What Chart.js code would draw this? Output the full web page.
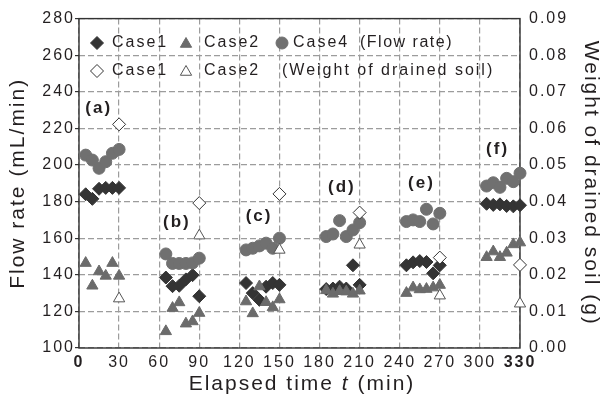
<!DOCTYPE html>
<html>
<head>
<meta charset="utf-8">
<script src="https://cdn.jsdelivr.net/npm/chart.js@4.4.0/dist/chart.umd.min.js"></script>
<style>
  html, body { margin: 0; padding: 0; background: #fff; }
  #wrap { width: 601px; height: 401px; }
</style>
</head>
<body>
<div id="wrap"><canvas id="chart" width="601" height="401"></canvas></div>
<script>
// Sampling times (min) of the six runs (a)-(f)
const runTimes = [
  [5, 10, 15, 20, 25, 30],
  [65, 70, 75, 80, 85, 90],
  [125, 130, 135, 140, 145, 150],
  [185, 190, 195, 200, 205, 210],
  [245, 250, 255, 260, 265, 270],
  [305, 310, 315, 320, 325, 330]
];
const runLabels = ['(a)', '(b)', '(c)', '(d)', '(e)', '(f)'];

// Flow rate (mL/min), one row per run
const flowCase1 = [
  [184.0, 181.5, 187.0, 187.5, 187.5, 187.5],
  [138.5, 133.8, 134.0, 137.5, 139.8, 128.3],
  [135.5, 130.0, 126.3, 133.5, 135.5, 134.5],
  [132.2, 132.5, 133.5, 132.5, 145.2, 134.5],
  [145.2, 146.8, 147.5, 147.0, 140.8, 145.2],
  [178.8, 178.2, 178.5, 177.6, 177.4, 178.0]
];
const flowCase2 = [
  [146.4, 134.0, 141.8, 139.4, 146.4, 139.4],
  [109.1, 121.8, 124.9, 113.3, 114.5, 119.1],
  [125.4, 118.9, 133.6, 125.0, 122.2, 126.5],
  [131.5, 129.6, 131.0, 130.8, 129.6, 131.3],
  [130.0, 133.0, 132.0, 132.2, 133.0, 134.4],
  [149.6, 152.7, 149.6, 152.0, 156.6, 157.6]
];
const flowCase4 = [
  [205.4, 202.7, 198.2, 201.8, 206.4, 208.5],
  [151.4, 146.2, 146.2, 146.2, 146.5, 149.1],
  [153.6, 154.5, 155.8, 157.3, 154.5, 160.0],
  [160.9, 162.3, 169.6, 160.9, 164.5, 168.5],
  [169.1, 170.0, 169.1, 175.8, 167.8, 173.6],
  [188.5, 190.3, 187.8, 192.7, 190.9, 195.5]
];

// Weight of drained soil (g), weighed at the end of each run
const soilTimes = [30, 90, 150, 210, 270, 330];
const soilCase1 = [0.0611, 0.0396, 0.0421, 0.0370, 0.0247, 0.0227];
const soilCase2 = [0.0135, 0.0307, 0.0268, 0.0282, 0.0143, 0.0121];

// Where each run label sits, in axis units (time, flow rate)
const runLabelTime = [14, 72.5, 134, 196, 255.5, 312.5];
const runLabelFlow = [231, 168.5, 172, 188, 190, 208.5];

// Axis ranges and tick steps
const timeRange = [0, 330, 30];
const flowRange = [100, 280, 20];
const soilRange = [0, 0.09, 0.01];

const FONT = '"Liberation Sans", Arial, Helvetica, sans-serif';
const INK = '#231f20';
const GRID = '#9c9c9c';

function toPoints(times, values) {
  const pts = [];
  times.forEach((row, i) => row.forEach((t, j) => pts.push({ x: t, y: values[i][j] })));
  return pts;
}

const styles = {
  c1: { pointStyle: 'rectRot', pointRadius: 6.5, backgroundColor: '#343434', borderColor: '#343434', borderWidth: 1 },
  c2: { pointStyle: 'triangle', pointRadius: 6.5, backgroundColor: '#6b6b6b', borderColor: '#6b6b6b', borderWidth: 1 },
  c4: { pointStyle: 'circle', pointRadius: 6, backgroundColor: '#707070', borderColor: '#707070', borderWidth: 1 },
  s1: { pointStyle: 'rectRot', pointRadius: 6.5, backgroundColor: '#ffffff', borderColor: '#333333', borderWidth: 1 },
  s2: { pointStyle: 'triangle', pointRadius: 6.5, backgroundColor: '#ffffff', borderColor: '#555555', borderWidth: 1 }
};

function drawMarker(ctx, st, x, y) {
  ctx.save();
  ctx.fillStyle = st.backgroundColor;
  ctx.strokeStyle = st.borderColor;
  ctx.lineWidth = st.borderWidth;
  Chart.helpers.drawPoint(ctx, { pointStyle: st.pointStyle, radius: st.pointRadius, rotation: 0, borderWidth: st.borderWidth }, x, y);
  ctx.restore();
}

const decorations = {
  id: 'decorations',
  beforeDraw(chart) {
    chart.ctx.letterSpacing = '2px';
  },
  beforeDatasetsDraw(chart) {
    const { ctx, chartArea: a } = chart;
    ctx.save();
    ctx.strokeStyle = '#333';
    ctx.lineWidth = 1.4;
    ctx.strokeRect(a.left, a.top, a.right - a.left, a.bottom - a.top);
    ctx.restore();
  },
  afterDatasetsDraw(chart) {
    const { ctx, scales } = chart;
    ctx.save();
    ctx.letterSpacing = '2px';
    ctx.fillStyle = INK;
    ctx.textBaseline = 'middle';

    // legend
    ctx.font = '16px ' + FONT;
    ctx.textAlign = 'left';
    const row1 = 43, row2 = 71;
    drawMarker(ctx, styles.c1, 97, row1);
    ctx.fillText('Case1', 112, row1);
    drawMarker(ctx, styles.c2, 186, row1 + 1);
    ctx.fillText('Case2', 204, row1);
    drawMarker(ctx, styles.c4, 282, row1);
    ctx.fillText('Case4', 293, row1);
    ctx.letterSpacing = '1.5px';
    ctx.fillText('(Flow rate)', 360, row1);
    ctx.letterSpacing = '2px';
    drawMarker(ctx, styles.s1, 97, row2);
    ctx.fillText('Case1', 112, row2);
    drawMarker(ctx, styles.s2, 186, row2 + 1);
    ctx.fillText('Case2', 204, row2);
    ctx.fillText('(Weight of drained soil)', 282, row2);

    // run labels
    ctx.font = 'bold 17px ' + FONT;
    ctx.textAlign = 'center';
    runLabels.forEach((s, i) => {
      ctx.fillText(s, scales.x.getPixelForValue(runLabelTime[i]) + 1, scales.y.getPixelForValue(runLabelFlow[i]));
    });

    // x-axis title with italic symbol
    const parts = [['Elapsed time ', ''], ['t', 'italic '], [' (min)', '']];
    let total = 0;
    parts.forEach(p => { ctx.font = p[1] + '21px ' + FONT; total += ctx.measureText(p[0]).width; });
    let x = 302 - total / 2;
    ctx.textAlign = 'left';
    parts.forEach(p => {
      ctx.font = p[1] + '21px ' + FONT;
      ctx.fillText(p[0], x, 384);
      x += ctx.measureText(p[0]).width;
    });
    ctx.restore();
  }
};

const ds = (label, data, st, axis, order) => Object.assign({ label, data, yAxisID: axis, showLine: false, order, clip: false }, st);

new Chart(document.getElementById('chart'), {
  type: 'scatter',
  data: {
    datasets: [
      ds('Case1 (Flow rate)', toPoints(runTimes, flowCase1), styles.c1, 'y', 4),
      ds('Case2 (Flow rate)', toPoints(runTimes, flowCase2), styles.c2, 'y', 3),
      ds('Case4 (Flow rate)', toPoints(runTimes, flowCase4), styles.c4, 'y', 2),
      ds('Case1 (Weight of drained soil)', soilTimes.map((t, i) => ({ x: t, y: soilCase1[i] })), styles.s1, 'y2', 1),
      ds('Case2 (Weight of drained soil)', soilTimes.map((t, i) => ({ x: t, y: soilCase2[i] })), styles.s2, 'y2', 0)
    ]
  },
  options: {
    responsive: false,
    animation: false,
    events: [],
    layout: { padding: { top: 18, left: 0, right: 0, bottom: 0 } },
    plugins: { legend: { display: false }, tooltip: { enabled: false } },
    scales: {
      x: {
        type: 'linear',
        min: timeRange[0], max: timeRange[1],
        grid: { color: GRID, lineWidth: 1.2, drawTicks: false },
        border: { display: false, dash: [6, 3] },
        ticks: {
          stepSize: timeRange[2], padding: 5, color: INK,
          font: (c) => ({ family: FONT, size: 16, weight: (c.tick && (c.tick.value === timeRange[0] || c.tick.value === timeRange[1])) ? 'bold' : 'normal' }),
          maxRotation: 0, autoSkip: false
        },
        afterFit: (s) => { s.height = 53; }
      },
      y: {
        position: 'left',
        min: flowRange[0], max: flowRange[1],
        grid: { color: GRID, lineWidth: 1.2, drawTicks: true, tickLength: 4, tickColor: '#333', tickWidth: 1.2 },
        border: { display: false, dash: [6, 3] },
        ticks: { stepSize: flowRange[2], padding: 0, color: INK, font: { family: FONT, size: 16 } },
        title: { display: true, text: 'Flow rate (mL/min)', color: INK, font: { family: FONT, size: 21, lineHeight: 1 }, padding: { top: 8, bottom: 0 } },
        afterFit: (s) => { s.width = 79; }
      },
      y2: {
        position: 'right',
        min: soilRange[0], max: soilRange[1],
        grid: { drawOnChartArea: false, drawTicks: false },
        border: { display: false },
        ticks: { stepSize: soilRange[2], padding: 9, color: INK, font: { family: FONT, size: 16 }, callback: (v) => v.toFixed(2) },
        title: { display: true, text: 'Weight of drained soil (g)', color: INK, font: { family: FONT, size: 21, lineHeight: 1 }, padding: { top: 0, bottom: 0 } },
        afterFit: (s) => { s.width = 81; }
      }
    }
  },
  plugins: [decorations]
});
</script>
</body>
</html>
